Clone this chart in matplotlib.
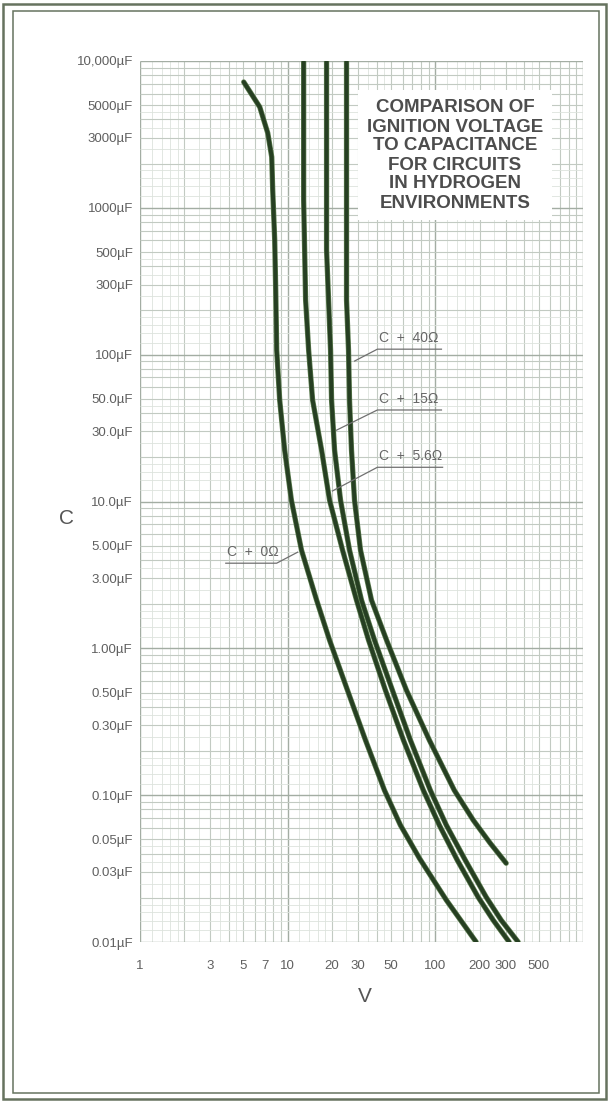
import numpy as np
import matplotlib.pyplot as plt
from matplotlib.patches import Rectangle
from matplotlib.ticker import NullLocator

plt.rcParams['font.family'] = ['Liberation Sans', 'DejaVu Sans']

# ignition curves: voltage (V) against capacitance (uF)
v_0r = [5.04, 6.47, 7.33, 7.80, 7.92, 8.17, 8.30, 8.43, 8.83, 9.54, 10.6, 12.4,
        15.7, 19.2, 25.4, 33.65, 45.23, 58.0, 78.0, 118.7, 189]
c_0r = [7194, 4861, 3232, 2218, 1322, 604, 275, 107, 49.1, 22.4, 10.2, 4.67,
        2.13, 1.14, 0.519, 0.237, 0.108, 0.0625, 0.0372, 0.0193, 0.01]

v_5r6 = [12.83, 12.83, 13.23, 13.87, 14.75, 16.97, 19.22, 23.53, 29.26, 35.27,
         45.9, 60.8, 82.96, 106.4, 140.8, 195.0, 246.6, 316.2]
c_5r6 = [10000, 1130, 235.5, 107, 49.1, 22.4, 10.2, 4.67, 2.13, 1.14,
         0.519, 0.237, 0.108, 0.0625, 0.0361, 0.0202, 0.01408, 0.01]

v_15r = [18.34, 18.34, 18.92, 19.52, 19.83, 20.78, 22.81, 26.23, 31.62, 38.7,
         51.2, 67.8, 92.5, 118.7, 159.5, 221.1, 279.2, 363.8]
c_15r = [10000, 516, 235.5, 107, 49.1, 22.4, 10.2, 4.67, 2.13, 1.14,
         0.519, 0.237, 0.108, 0.0625, 0.0361, 0.0202, 0.01408, 0.01]

v_40r = [25.04, 25.04, 25.83, 26.23, 27.06, 28.36, 31.13, 36.95, 46.7, 63.7,
         91.1, 134.4, 180.6, 235.3, 301.8]
c_40r = [10000, 235.5, 107, 49.1, 22.4, 10.2, 4.67, 2.13, 1.14, 0.519,
         0.237, 0.108, 0.0676, 0.0471, 0.0344]

c_ticks = [10000, 5000, 3000, 1000, 500, 300, 100, 50, 30, 10, 5, 3, 1,
           0.5, 0.3, 0.1, 0.05, 0.03, 0.01]
c_tick_labels = ['10,000µF', '5000µF', '3000µF', '1000µF', '500µF', '300µF',
                 '100µF', '50.0µF', '30.0µF', '10.0µF', '5.00µF', '3.00µF',
                 '1.00µF', '0.50µF', '0.30µF', '0.10µF', '0.05µF', '0.03µF',
                 '0.01µF']
v_ticks = [1, 3, 5, 7, 10, 20, 30, 50, 100, 200, 300, 500]
v_tick_labels = ['1', '3', '5', '7', '10', '20', '30', '50', '100', '200', '300', '500']

title_lines = ['COMPARISON OF', 'IGNITION VOLTAGE', 'TO CAPACITANCE',
               'FOR CIRCUITS', 'IN HYDROGEN', 'ENVIRONMENTS']

W, H = 609, 1102
AX_L, AX_R, AX_T, AX_B = 140, 583, 61, 942

fig = plt.figure(figsize=(W / 100, H / 100), dpi=100)
fig.patch.set_facecolor('white')
ax = fig.add_axes([AX_L / W, 1 - AX_B / H, (AX_R - AX_L) / W, (AX_B - AX_T) / H])
ax.set_xscale('log')
ax.set_yscale('log')
ax.set_xlim(1, 1000)
ax.set_ylim(0.01, 10000)


def ax_frac(px, py):
    return (px - AX_L) / (AX_R - AX_L), (AX_B - py) / (AX_B - AX_T)


# log graph paper
fine_steps = [1.2, 1.4, 1.6, 1.8, 2.5, 3.5, 4.5]


def paper_lines(lo, hi):
    fine, mid, major = [], [], []
    for e in range(lo, hi + 1):
        base = 10.0 ** e
        major.append(base)
        if e == hi:
            break
        mid += [k * base for k in range(2, 10)]
        fine += [f * base for f in fine_steps]
    return fine, mid, major


xf, xm, xM = paper_lines(0, 3)
yf, ym, yM = paper_lines(-2, 4)
styles = (('#dde3dd', 0.6), ('#c2cac2', 0.8), ('#a3ada3', 1.0))
for vals, (col, lw) in zip((xf, xm, xM), styles):
    ax.vlines(vals, 0.01, 10000, colors=col, lw=lw, zorder=1)
for vals, (col, lw) in zip((yf, ym, yM), styles):
    ax.hlines(vals, 1, 1000, colors=col, lw=lw, zorder=1)

for sp in ax.spines.values():
    sp.set_visible(False)

# title panel sits on a white patch over the grid
x0, y1 = ax_frac(358, 220)
x1, y0 = ax_frac(552, 90)
ax.add_patch(Rectangle((x0, y1), x1 - x0, y0 - y1, transform=ax.transAxes,
                       facecolor='white', edgecolor='none', zorder=2))
for i, line in enumerate(title_lines):
    tx, ty = ax_frac(455, 108 + 19 * i)
    ax.text(tx, ty, line, transform=ax.transAxes, ha='center', va='center',
            fontsize=13.5, fontweight='bold', color='#4d4d4d', zorder=3)

# curves
for v, c in ((v_0r, c_0r), (v_5r6, c_5r6), (v_15r, c_15r), (v_40r, c_40r)):
    ax.plot(v, c, color='#5d7d50', lw=3.8, solid_capstyle='round',
            solid_joinstyle='round', zorder=4)
    ax.plot(v, c, color='#263f22', lw=2.8, solid_capstyle='round',
            solid_joinstyle='round', zorder=5)

# curve labels with underline and leader
curve_labels = [
    ('C  +  40Ω', 40.5, 110, 109, (28.4, 90.5)),
    ('C  +  15Ω', 40.5, 110, 42, (21.4, 30.6)),
    ('C  +  5.6Ω', 40.5, 112, 17.1, (20.1, 11.8)),
]
for text, v_start, v_end, c_line, tip in curve_labels:
    ax.plot([tip[0], v_start, v_end], [tip[1], c_line, c_line],
            color='#707070', lw=0.9, zorder=6)
    ax.text(v_start * 1.02, c_line * 1.07, text, ha='left', va='bottom',
            fontsize=10, color='#666666', zorder=6)

ax.plot([3.81, 8.42, 11.7], [3.8, 3.8, 4.52], color='#707070', lw=0.9, zorder=6)
ax.text(3.81 * 1.02, 3.8 * 1.07, 'C  +  0Ω', ha='left', va='bottom',
        fontsize=10, color='#666666', zorder=6)

# ticks
ax.set_yticks(c_ticks, c_tick_labels)
ax.set_xticks(v_ticks, v_tick_labels)
ax.xaxis.set_minor_locator(NullLocator())
ax.yaxis.set_minor_locator(NullLocator())
ax.tick_params(axis='y', length=0, pad=5, labelsize=9.5, labelcolor='#5f5f5f')
ax.tick_params(axis='x', length=0, pad=13, labelsize=9.5, labelcolor='#5f5f5f')

lx, ly = ax_frac(67, 518)
ax.text(lx, ly, 'C', transform=ax.transAxes, ha='center', va='center',
        fontsize=15, color='#555555')
lx, ly = ax_frac(365, 997)
ax.text(lx, ly, 'V', transform=ax.transAxes, ha='center', va='center',
        fontsize=15, color='#555555')

# double page frame
for (l, t, r, b), lw in (((3, 4, 606, 1099), 1.8), ((13, 11, 599, 1093), 1.1)):
    fig.add_artist(Rectangle((l / W, 1 - b / H), (r - l) / W, (b - t) / H,
                             transform=fig.transFigure, fill=False,
                             edgecolor='#66735f', lw=lw))

fig.savefig('out.png', dpi=100, facecolor='white')
